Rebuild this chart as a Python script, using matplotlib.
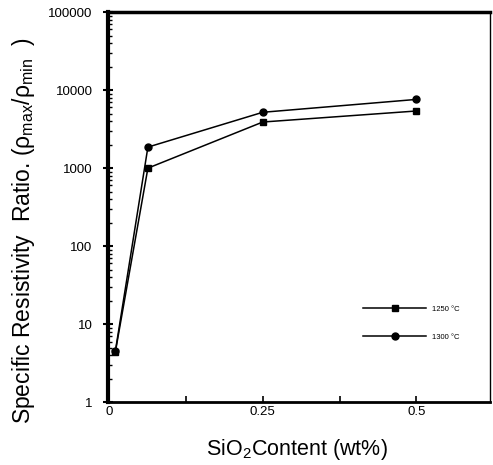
import matplotlib
matplotlib.use("Agg")
import matplotlib.pyplot as plt
from matplotlib.ticker import FixedLocator, LogLocator, NullFormatter

plt.rcParams['font.family'] = ['Liberation Sans', 'DejaVu Sans']
plt.rcParams['mathtext.fontset'] = 'custom'
plt.rcParams['mathtext.rm'] = 'Liberation Sans'
plt.rcParams['mathtext.it'] = 'Liberation Sans'

# data
sio2 = [0.01, 0.063, 0.25, 0.5]
ratio_1250 = [4.4, 1000, 3900, 5400]
ratio_1300 = [4.5, 1860, 5200, 7600]
series_labels = ["1250 \u00b0C", "1300 \u00b0C"]
x_ticks = [0, 0.25, 0.5]
x_ticklabels = ["0", "0.25", "0.5"]
y_ticks = [1, 10, 100, 1000, 10000, 100000]
y_ticklabels = ["1", "10", "100", "1000", "10000", "100000"]

fig = plt.figure(figsize=(4.93, 4.65), dpi=100)
ax = fig.add_axes([0.219, 0.135, 0.775, 0.839])

ax.plot(sio2, ratio_1250, "s-", color="black", lw=1.1, ms=5, label=series_labels[0])
ax.plot(sio2, ratio_1300, "o-", color="black", lw=1.1, ms=5, label=series_labels[1])

ax.set_yscale("log")
ax.set_xlim(-0.002, 0.62)
ax.set_ylim(1, 100000)

ax.yaxis.set_major_locator(FixedLocator(y_ticks))
ax.set_yticklabels(y_ticklabels)
ax.yaxis.set_minor_locator(LogLocator(base=10, subs=range(2, 10)))
ax.yaxis.set_minor_formatter(NullFormatter())
ax.xaxis.set_major_locator(FixedLocator(x_ticks))
ax.set_xticklabels(x_ticklabels)
ax.xaxis.set_minor_locator(FixedLocator([0.125, 0.375]))

ax.tick_params(axis="y", which="major", direction="inout", length=7, width=1.5,
               labelsize=9.5, pad=7.5)
ax.tick_params(axis="y", which="minor", direction="in", length=3, width=1)
ax.tick_params(axis="x", which="both", direction="in", length=4, width=1.2,
               labelsize=9.5, pad=3)

ax.spines["left"].set_linewidth(3)
ax.spines["bottom"].set_linewidth(2)
ax.spines["top"].set_linewidth(2.5)
ax.spines["right"].set_linewidth(1)

ax.set_xlabel("SiO$_2$Content (wt%)", fontsize=15.5)
ax.xaxis.set_label_coords(0.495, -0.09)
ax.set_ylabel(r"Specific Resistivity  Ratio. ($\rho_{\mathrm{max}}/\rho_{\mathrm{min}}$  )",
              fontsize=16.5)
ax.yaxis.set_label_coords(-0.186, 0.44)

ax.legend(loc="center left", bbox_to_anchor=(0.668, 0.203), frameon=False,
          fontsize=5.5, handlelength=8.25, labelspacing=2.67,
          handletextpad=0.8, borderpad=0, borderaxespad=0)

fig.savefig("out.png", dpi=100)
